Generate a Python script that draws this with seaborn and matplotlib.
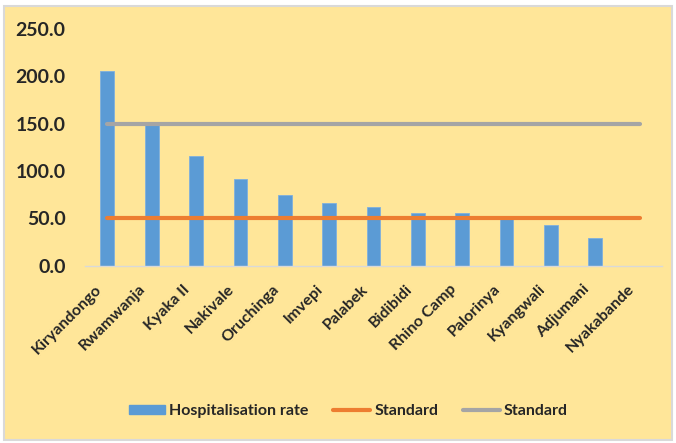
import matplotlib
matplotlib.use("Agg")
import matplotlib.pyplot as plt
import seaborn as sns
import pandas as pd
from matplotlib.patches import Rectangle, Patch
from matplotlib.lines import Line2D
from matplotlib.transforms import ScaledTranslation

# data
settlements = ["Kiryandongo", "Rwamwanja", "Kyaka II", "Nakivale", "Oruchinga",
               "Imvepi", "Palabek", "Bidibidi", "Rhino Camp", "Palorinya",
               "Kyangwali", "Adjumani", "Nyakabande"]
hosp_rate = [205.7, 148.4, 115.7, 91.8, 74.6, 66.5, 62.2, 56.0, 56.0, 52.0, 43.0, 29.5, 0.0]
standard_low = [50.0] * len(settlements)
standard_high = [150.0] * len(settlements)

BG = "#FFE699"
BLUE = "#5B9BD5"
ORANGE = "#ED7D31"
GREY = "#A5A5A5"

sns.set_theme(style="white")
plt.rcParams['font.family'] = ['Lato', 'DejaVu Sans']

df = pd.DataFrame({"Settlement": settlements, "Rate": hosp_rate,
                   "Std50": standard_low, "Std150": standard_high})

fig = plt.figure(figsize=(6.76, 4.43), dpi=100, facecolor="white")
# outer frame like the Excel chart area
fig.patches.append(Rectangle((0.006, 0.006), 0.988, 0.981, transform=fig.transFigure,
                             facecolor=BG, edgecolor="#D9D9D9", linewidth=1.5, zorder=-1))
ax = fig.add_axes([0.126, 0.40, 0.853, 0.535])
ax.set_facecolor(BG)
ax.patch.set_alpha(0)

sns.barplot(data=df, x="Settlement", y="Rate", color=BLUE, saturation=1,
            width=0.31, edgecolor="#7FB0DE", linewidth=0.6, ax=ax, zorder=2)
sns.lineplot(data=df, x="Settlement", y="Std50", color=ORANGE, lw=3, ax=ax, zorder=3)
sns.lineplot(data=df, x="Settlement", y="Std150", color=GREY, lw=3, ax=ax, zorder=3)

ax.set_ylim(0, 250)
ax.set_xlim(-0.5, len(settlements) - 0.5)
ax.set_yticks(range(0, 251, 50))
ax.set_yticklabels([f"{v:.1f}" for v in range(0, 251, 50)], fontsize=14, fontweight="bold")
ax.set_xticks(range(len(settlements)))
ax.set_xticklabels(settlements, rotation=45, ha="right", rotation_mode="anchor",
                   fontsize=11.5, fontweight="bold")
ax.tick_params(axis="x", length=0, pad=6)
ax.tick_params(axis="y", length=0, pad=14)
shift = ScaledTranslation(-13 / 100, -8 / 100, fig.dpi_scale_trans)
for lab in ax.get_xticklabels():
    lab.set_transform(lab.get_transform() + shift)
ax.set_xlabel("")
ax.set_ylabel("")
for s in ["top", "right", "left"]:
    ax.spines[s].set_visible(False)
ax.spines["bottom"].set_color("#D9D9D9")
ax.spines["bottom"].set_linewidth(1)

handles = [Patch(facecolor=BLUE, edgecolor=BLUE),
           Line2D([0], [0], color=ORANGE, lw=3),
           Line2D([0], [0], color=GREY, lw=3)]
labels = ["Hospitalisation rate", "Standard", "Standard"]
fig.legend(handles, labels, loc="center", bbox_to_anchor=(0.515, 0.072), ncol=3,
           frameon=False, prop={"weight": "bold", "size": 11.5},
           handlelength=2.3, handleheight=0.5, columnspacing=1.55, handletextpad=0.25)

fig.savefig("out.png", dpi=100, facecolor="white")
